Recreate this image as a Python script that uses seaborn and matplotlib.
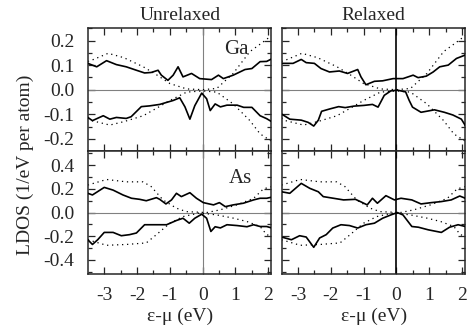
import numpy as np
import pandas as pd
import matplotlib
matplotlib.use("Agg")
import matplotlib.pyplot as plt
from matplotlib.ticker import MultipleLocator
import seaborn as sns

# ---- data (energy in eV, LDOS in 1/eV per atom) ----
# bulk reference curves (dotted), same in both columns
ga_bulk_up_x = [-3.5, -3.38, -2.88, -2.4, -1.81, -1.4, -1.0, -0.49, 0.0, 0.43, 0.93, 1.44, 1.8, 2.1]
ga_bulk_up_y = [0.115, 0.12, 0.148, 0.13, 0.093, 0.06, 0.025, 0.003, 0.0, 0.005, 0.066, 0.155, 0.19, 0.22]
ga_bulk_dn_x = [-3.5, -3.38, -2.83, -2.4, -1.81, -1.4, -1.0, -0.49, 0.0, 0.43, 0.93, 1.44, 1.75, 2.1]
ga_bulk_dn_y = [-0.115, -0.126, -0.144, -0.13, -0.106, -0.075, -0.044, -0.01, -0.005, -0.01, -0.058, -0.126, -0.18, -0.21]

as_bulk_up_x = [-3.5, -2.93, -2.33, -1.82, -1.57, -1.21, -0.8, -0.5, 0.12, 0.53, 1.04, 1.55, 1.85, 2.1]
as_bulk_up_y = [0.233, 0.28, 0.26, 0.26, 0.22, 0.107, 0.037, 0.008, 0.0, 0.023, 0.065, 0.12, 0.2, 0.22]
as_bulk_dn_x = [-3.5, -2.93, -2.33, -1.72, -1.41, -1.0, -0.6, -0.09, 0.43, 0.93, 1.35, 1.75, 1.95, 2.1]
as_bulk_dn_y = [-0.23, -0.277, -0.27, -0.257, -0.187, -0.09, -0.034, -0.003, -0.02, -0.047, -0.076, -0.118, -0.187, -0.2]

# Ga, unrelaxed
ga_unrel_up_x = [-3.5, -3.23, -2.93, -2.63, -2.33, -2.02, -1.77, -1.57, -1.36, -1.26, -1.06, -0.9, -0.75,
                 -0.6, -0.34, -0.09, 0.27, 0.48, 0.63, 0.93, 1.29, 1.5, 1.75, 1.95, 2.1]
ga_unrel_up_y = [0.107, 0.093, 0.118, 0.102, 0.093, 0.079, 0.068, 0.07, 0.079, 0.059, 0.038, 0.059, 0.093,
                 0.052, 0.066, 0.045, 0.041, 0.059, 0.045, 0.059, 0.082, 0.086, 0.114, 0.115, 0.125]
ga_unrel_dn_x = [-3.5, -3.36, -3.03, -2.83, -2.63, -2.33, -2.18, -1.87, -1.62, -1.31, -0.9, -0.7, -0.54,
                 -0.39, -0.24, -0.03, 0.12, 0.23, 0.38, 0.54, 0.74, 1.05, 1.25, 1.5, 1.75, 1.95, 2.1]
ga_unrel_dn_y = [-0.113, -0.126, -0.106, -0.12, -0.113, -0.117, -0.11, -0.069, -0.066, -0.06, -0.044, -0.033, -0.07,
                 -0.12, -0.065, -0.014, -0.037, -0.085, -0.058, -0.07, -0.063, -0.063, -0.072, -0.072, -0.106, -0.118, -0.13]

# Ga, relaxed
ga_rel_up_x = [-3.5, -3.15, -2.9, -2.75, -2.5, -2.3, -2.04, -1.74, -1.49, -1.18, -1.08, -0.93, -0.67,
               -0.42, -0.1, 0.2, 0.51, 0.66, 0.91, 1.12, 1.32, 1.58, 1.83, 2.1]
ga_rel_up_y = [0.107, 0.107, 0.123, 0.11, 0.107, 0.086, 0.072, 0.076, 0.066, 0.082, 0.052, 0.02, 0.034,
               0.036, 0.045, 0.045, 0.059, 0.049, 0.055, 0.072, 0.093, 0.1, 0.127, 0.141]
ga_rel_dn_x = [-3.5, -3.25, -2.9, -2.69, -2.52, -2.38, -2.28, -2.02, -1.76, -1.56, -1.3, -0.99, -0.73, -0.56,
               -0.37, -0.17, 0.03, 0.28, 0.39, 0.49, 0.75, 1.16, 1.46, 1.72, 1.98, 2.1]
ga_rel_dn_y = [-0.099, -0.12, -0.124, -0.133, -0.148, -0.124, -0.088, -0.078, -0.069, -0.073, -0.067, -0.064, -0.06, -0.071,
               -0.023, -0.005, -0.002, -0.009, -0.044, -0.071, -0.092, -0.082, -0.092, -0.103, -0.12, -0.146]

# As, unrelaxed
as_unrel_up_x = [-3.5, -3.36, -3.0, -2.73, -2.43, -2.17, -1.92, -1.72, -1.41, -1.31, -1.12, -0.95, -0.8,
                 -0.65, -0.39, -0.19, 0.02, 0.33, 0.51, 0.69, 0.93, 1.24, 1.55, 1.75, 1.95, 2.1]
as_unrel_up_y = [0.163, 0.149, 0.213, 0.19, 0.149, 0.121, 0.112, 0.1, 0.126, 0.112, 0.073, 0.107, 0.163,
                 0.135, 0.168, 0.121, 0.084, 0.065, 0.084, 0.05, 0.065, 0.079, 0.107, 0.121, 0.121, 0.13]
as_unrel_dn_x = [-3.5, -3.36, -3.2, -3.0, -2.73, -2.48, -2.23, -2.02, -1.77, -1.41, -1.1, -0.8, -0.6, -0.41,
                 -0.24, -0.03, 0.12, 0.25, 0.38, 0.54, 0.74, 1.05, 1.35, 1.55, 1.75, 1.95, 2.1]
as_unrel_dn_y = [-0.23, -0.27, -0.23, -0.168, -0.168, -0.196, -0.187, -0.173, -0.103, -0.103, -0.103, -0.067, -0.048, -0.09,
                 -0.048, -0.014, -0.048, -0.16, -0.12, -0.13, -0.103, -0.11, -0.12, -0.103, -0.118, -0.118, -0.13]

# As, relaxed
as_rel_up_x = [-3.5, -3.25, -2.9, -2.64, -2.38, -2.23, -1.92, -1.61, -1.25, -1.1, -0.89, -0.73, -0.58,
               -0.32, -0.06, 0.14, 0.47, 0.75, 1.06, 1.37, 1.67, 1.93, 2.1]
as_rel_up_y = [0.176, 0.163, 0.247, 0.205, 0.176, 0.135, 0.121, 0.107, 0.112, 0.093, 0.065, 0.121, 0.079,
               0.143, 0.107, 0.121, 0.107, 0.073, 0.084, 0.093, 0.107, 0.14, 0.121]
as_rel_dn_x = [-3.5, -3.2, -2.95, -2.75, -2.52, -2.34, -2.14, -1.94, -1.69, -1.43, -1.18, -0.93, -0.67,
               -0.42, -0.17, 0.03, 0.2, 0.47, 0.67, 0.97, 1.37, 1.62, 1.88, 2.1]
as_rel_dn_y = [-0.207, -0.23, -0.196, -0.207, -0.294, -0.215, -0.187, -0.131, -0.103, -0.11, -0.131, -0.103, -0.09,
               -0.048, -0.02, 0.0, -0.02, -0.118, -0.124, -0.146, -0.168, -0.124, -0.103, -0.118]

col_titles = ["Unrelaxed", "Relaxed"]
row_labels = ["Ga", "As"]
x_label = "\u03b5-\u03bc (eV)"
y_label = "LDOS (1/eV per atom)"

sns.set_style("ticks")
plt.rcParams["font.family"] = ["Liberation Serif", "DejaVu Serif"]
plt.rcParams["axes.unicode_minus"] = False

FS = 14

fig, axes = plt.subplots(2, 2, figsize=(4.67, 3.36), dpi=100)
fig.subplots_adjust(left=0.1895, right=0.9957, bottom=0.1845, top=0.916, wspace=0.06, hspace=0)

panels = {
    (0, 0): (ga_unrel_up_x, ga_unrel_up_y, ga_unrel_dn_x, ga_unrel_dn_y, "ga"),
    (0, 1): (ga_rel_up_x, ga_rel_up_y, ga_rel_dn_x, ga_rel_dn_y, "ga"),
    (1, 0): (as_unrel_up_x, as_unrel_up_y, as_unrel_dn_x, as_unrel_dn_y, "as"),
    (1, 1): (as_rel_up_x, as_rel_up_y, as_rel_dn_x, as_rel_dn_y, "as"),
}
bulk = {
    "ga": (ga_bulk_up_x, ga_bulk_up_y, ga_bulk_dn_x, ga_bulk_dn_y),
    "as": (as_bulk_up_x, as_bulk_up_y, as_bulk_dn_x, as_bulk_dn_y),
}

for (r, c), (ux, uy, dx, dy, key) in panels.items():
    ax = axes[r, c]
    bux, buy, bdx, bdy = bulk[key]

    ax.axhline(0, color="#808080", lw=0.8, zorder=1)
    if c == 0:
        ax.axvline(0, color="#808080", lw=0.8, zorder=1)
    else:
        ax.axvline(0, color="black", lw=1.2, zorder=1)

    for xs, ys in [(bux, buy), (bdx, bdy)]:
        sns.lineplot(x=xs, y=ys, ax=ax, color="black", lw=0.9, linestyle=(0, (1, 3)),
                     estimator=None, sort=False, zorder=2)
    for xs, ys in [(ux, uy), (dx, dy)]:
        sns.lineplot(x=xs, y=ys, ax=ax, color="black", lw=1.2,
                     estimator=None, sort=False, zorder=3)

    ax.set_xlim(-3.48, 2.09)
    ax.xaxis.set_major_locator(MultipleLocator(1))
    ax.xaxis.set_minor_locator(MultipleLocator(0.5))
    if r == 0:
        ax.set_ylim(-0.25, 0.25)
        ax.yaxis.set_minor_locator(MultipleLocator(0.05))
        ax.set_yticks([-0.2, -0.1, 0.0, 0.1, 0.2])
        ax.set_yticklabels(["-0.2", "-0.1", "0.0", "0.1", "0.2"])
        ax.set_title(col_titles[c], fontsize=FS, pad=6)
    else:
        ax.set_ylim(-0.52, 0.52)
        ax.yaxis.set_minor_locator(MultipleLocator(0.1))
        ax.set_yticks([-0.4, -0.2, 0.0, 0.2, 0.4])
        ax.set_yticklabels(["-0.4", "-0.2", "0.0", "0.2", "0.4"])

    ax.tick_params(which="both", direction="in", top=True, right=True, labelsize=FS,
                   width=0.9)
    ax.tick_params(which="major", length=5)
    ax.tick_params(which="minor", length=3)
    ax.tick_params(axis="y", pad=10)
    ax.tick_params(axis="x", pad=9)
    for s in ax.spines.values():
        s.set_linewidth(1.1)

    if c == 1:
        ax.tick_params(labelleft=False)
    if r == 0:
        ax.tick_params(labelbottom=False)
    else:
        ax.set_xticks([-3, -2, -1, 0, 1, 2])
        ax.set_xticklabels(["-3", "-2", "-1", "0", "1", "2"])
        ax.set_xlabel(x_label, fontsize=FS, labelpad=3)
    ax.set_ylabel("")

axes[0, 0].text(1.04, 0.162, row_labels[0], fontsize=FS + 1, ha="center", va="center")
axes[1, 0].text(1.14, 0.29, row_labels[1], fontsize=FS + 1, ha="center", va="center")

fig.text(0.054, 0.509, y_label, rotation=90, fontsize=FS, ha="center", va="center")

fig.savefig("out.png", dpi=100)
